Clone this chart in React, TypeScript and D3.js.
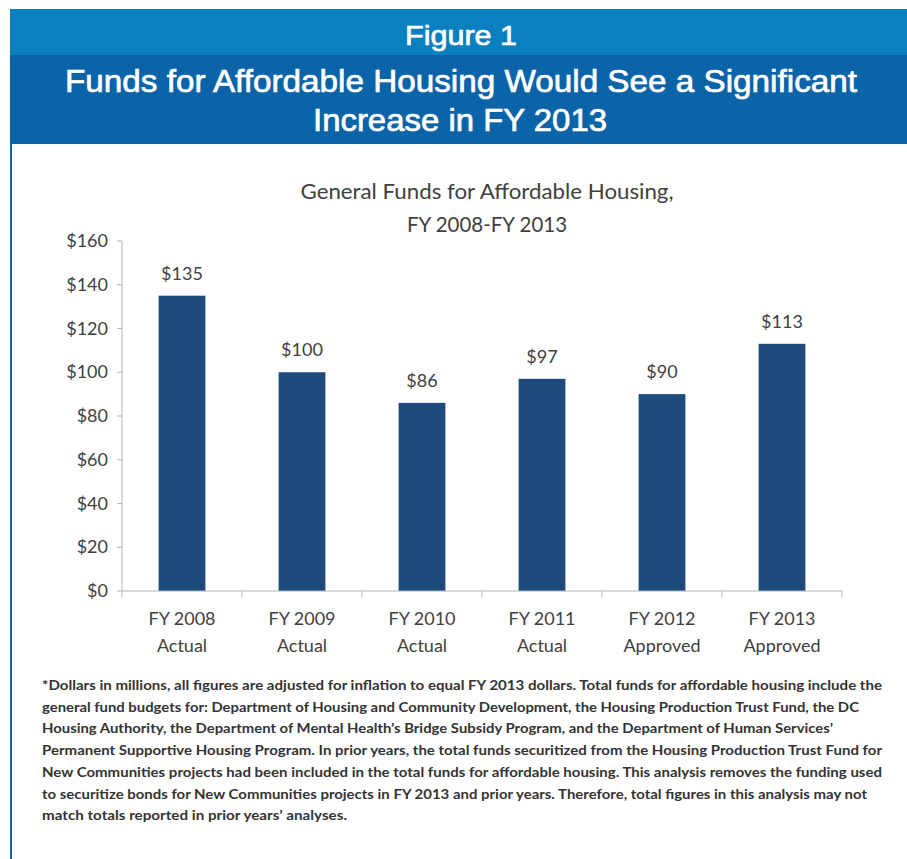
import React from "react";
import * as d3 from "d3";

const categories = ["FY 2008|Actual", "FY 2009|Actual", "FY 2010|Actual", "FY 2011|Actual", "FY 2012|Approved", "FY 2013|Approved"];
const values = [135, 100, 86, 97, 90, 113];
const yTicks = [0, 20, 40, 60, 80, 100, 120, 140, 160];

const headerLines = [
  { text: "Figure 1", cx: 461, y: 45, w: 112 },
  { text: "Funds for Affordable Housing Would See a Significant", cx: 461, y: 92, w: 792 },
  { text: "Increase in FY 2013", cx: 460, y: 131, w: 294 },
];
const chartTitle = [
  { text: "General Funds for Affordable Housing,", cx: 487, y: 199, w: 373 },
  { text: "FY 2008-FY 2013", cx: 487, y: 232, w: 160 },
];
const footnote = [
  "*Dollars in millions, all figures are adjusted for inflation to equal FY 2013 dollars.  Total funds for affordable housing include the",
  "general fund budgets for: Department of Housing and Community Development, the Housing Production Trust Fund, the DC",
  "Housing Authority,  the Department of Mental Health\u2019s Bridge Subsidy Program, and the Department of Human Services\u2019",
  "Permanent Supportive Housing Program.  In prior years, the total funds  securitized from the Housing Production Trust Fund for",
  "New Communities projects had been included in the total funds for affordable housing.  This analysis removes the funding used",
  "to securitize bonds for New Communities projects in FY 2013 and prior years.  Therefore, total figures in this analysis may not",
  "match totals reported in prior years\u2019 analyses.",
];
const footnoteEnds = [882, 859, 833, 882, 882, 867, 347];

export default function App() {
  const W = 907, H = 859;
  const x0 = 122, x1 = 842, yTop = 241, yBot = 591;
  const x = d3.scaleBand().domain(categories).range([x0, x1]).paddingInner(0.61).paddingOuter(0.305);
  const y = d3.scaleLinear().domain([0, 160]).range([yBot, yTop]);
  const headFont = "'Liberation Sans Narrow', 'Liberation Sans', Arial, sans-serif";
  const chartFont = "Lato, 'Open Sans', sans-serif";
  const textCol = "#404040";
  const axisCol = "#b3b3b3";
  const boundaries = d3.range(categories.length + 1).map((i) => x0 + (i * (x1 - x0)) / categories.length);

  return (
    <svg width={W} height={H} style={{ position: "absolute", left: 0, top: 0, display: "block", background: "#fff" }}>
      <rect x={10} y={9} width={W - 10} height={47} fill="#0a80c0" />
      <rect x={10} y={55} width={W - 10} height={89} fill="#0b63a8" />
      <rect x={10} y={144} width={2} height={H - 144} fill="#0f64ab" />
      {headerLines.map((l, i) => (
        <text key={i} x={l.cx - l.w / 2} y={l.y} fill="#fff" stroke="#fff" strokeWidth={0.7} fontFamily={headFont}
          fontSize={i === 0 ? 28 : 32} textLength={l.w} lengthAdjust="spacingAndGlyphs">{l.text}</text>
      ))}
      {chartTitle.map((l, i) => (
        <text key={i} x={l.cx - l.w / 2} y={l.y} fill={textCol} fontFamily={chartFont} fontSize={21}
          textLength={l.w} lengthAdjust="spacingAndGlyphs">{l.text}</text>
      ))}
      {/* y axis */}
      <line x1={x0} x2={x0} y1={yTop} y2={yBot} stroke={axisCol} strokeWidth={1} />
      {yTicks.map((t) => (
        <g key={t}>
          <line x1={x0 - 5} x2={x0} y1={y(t)} y2={y(t)} stroke={axisCol} />
          <text x={108} y={y(t) + 6} textAnchor="end" fill={textCol} fontFamily={chartFont} fontSize={18}>{"$" + t}</text>
        </g>
      ))}
      {/* bars */}
      {categories.map((c, i) => (
        <g key={c}>
          <rect x={x(c)} y={y(values[i])} width={x.bandwidth()} height={yBot - y(values[i])} fill="#1f4a7e" />
          <text x={(x(c) as number) + x.bandwidth() / 2} y={y(values[i]) - 16} textAnchor="middle" fill={textCol}
            fontFamily={chartFont} fontSize={18}>{"$" + values[i]}</text>
          {c.split("|").map((p, j) => (
            <text key={j} x={(x(c) as number) + x.bandwidth() / 2} y={625 + j * 27} textAnchor="middle" fill={textCol}
              fontFamily={chartFont} fontSize={18}>{p}</text>
          ))}
        </g>
      ))}
      {/* x axis */}
      <line x1={x0} x2={x1} y1={yBot} y2={yBot} stroke={axisCol} />
      {boundaries.map((b, i) => (
        <line key={i} x1={b} x2={b} y1={yBot} y2={yBot + 6} stroke={axisCol} />
      ))}
      {footnote.map((l, i) => (
        <text key={i} x={42} y={690 + i * 21.7} fill="#333" fontFamily={chartFont} fontWeight="bold" fontSize={14}
          textLength={footnoteEnds[i] - 42} lengthAdjust="spacingAndGlyphs">{l}</text>
      ))}
    </svg>
  );
}
